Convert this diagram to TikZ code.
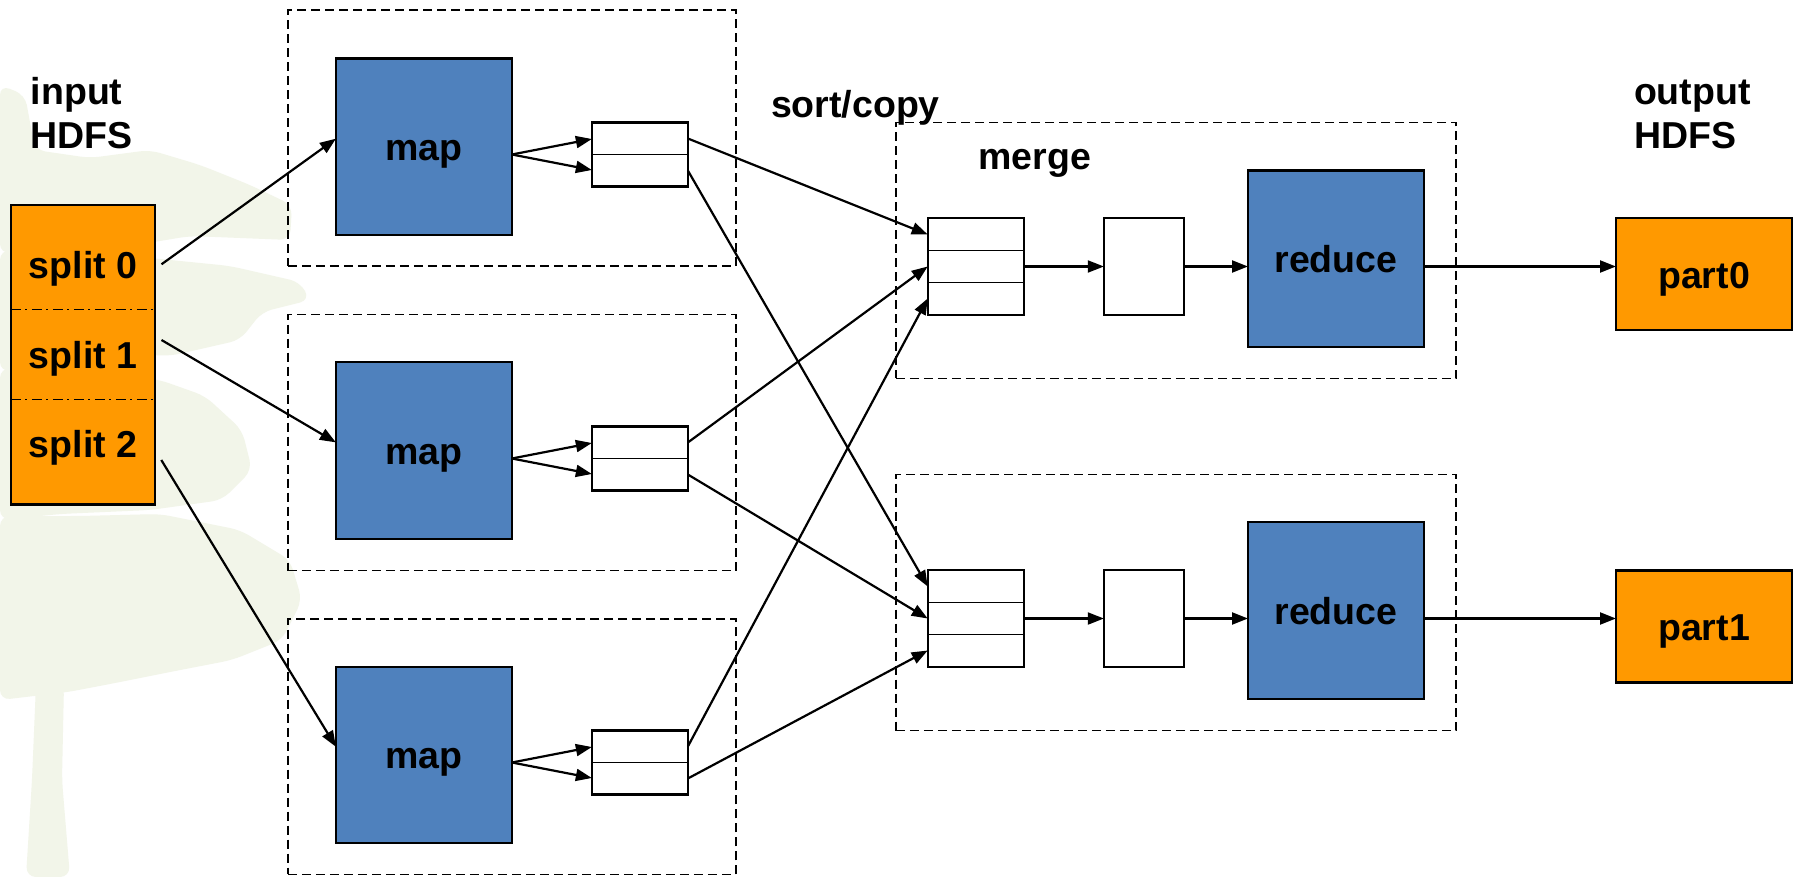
\documentclass[tikz,border=0pt]{standalone}
\usepackage{fontspec}
\setmainfont{Liberation Sans}
\usetikzlibrary{arrows.meta,calc}
\definecolor{mapblue}{RGB}{79,129,189}
\definecolor{splitorange}{RGB}{255,153,0}
\definecolor{treetint}{RGB}{242,245,233}

\begin{document}
\begin{tikzpicture}[x=0.5pt,y=-0.5pt,
  font=\fontsize{18.75}{21.65}\selectfont\bfseries,
  outlined/.style={draw=black,line width=1.1pt,inner sep=0pt,outer sep=0pt},
  taskbox/.style={outlined,fill=mapblue,text height=14pt,text depth=0pt,
                  minimum width=88pt,minimum height=88.2pt},
  partbox/.style={outlined,fill=splitorange,text height=14pt,text depth=0pt,
                  minimum width=88pt,minimum height=56pt},
  spillbox/.style={outlined,fill=white,minimum width=48pt,minimum height=32pt},
  mergebox/.style={outlined,fill=white,minimum width=48pt,minimum height=48.2pt},
  sortedbox/.style={outlined,fill=white,minimum width=40pt,minimum height=48.2pt},
  groupbox/.style={draw=black,line width=0.75pt,dash pattern=on 4.5pt off 2.5pt,
                   inner sep=0pt,outer sep=0pt},
  rowline/.style={draw=black,line width=0.9pt},
  splitline/.style={draw=black,line width=0.6pt,
                    dash pattern=on 5pt off 2.25pt on 1pt off 2.25pt},
  lbl/.style={inner sep=0pt,outer sep=0pt},
  arr/.style={draw=black,line width=1.1pt,-{Triangle[length=8pt,width=6pt]}}
]
\useasboundingbox (0,0) rectangle (1799,877);
\fill[white] (0,0) rectangle (1799,877);

% faint tree in the background: layered canopy and trunk
\begin{scope}[treetint, rounded corners=5pt]
\fill (0,85) -- (25,95) -- (35,150) -- (90,158) -- (150,150) -- (200,165)
  -- (250,185) -- (292,205) -- (290,240) -- (240,238) -- (190,236) -- (130,246)
  -- (60,244) -- (0,254) -- cycle;
\fill (0,250) -- (70,252) -- (150,258) -- (230,266) -- (300,282) -- (310,300)
  -- (262,312) -- (240,340) -- (170,356) -- (100,352) -- (40,366) -- (0,372) -- cycle;
\fill (0,368) -- (90,370) -- (160,380) -- (205,396) -- (242,430) -- (252,470)
  -- (222,500) -- (150,510) -- (60,514) -- (0,520) -- cycle;
\fill (0,516) -- (80,516) -- (160,514) -- (240,530) -- (290,560) -- (302,600)
  -- (282,640) -- (232,660) -- (170,672) -- (110,684) -- (68,692) -- (0,700) -- cycle;
\fill (26,877) -- (32,780) -- (36,684) -- (64,684) -- (62,780) -- (70,877) -- cycle;
\end{scope}

% dashed task groups
\node[groupbox,minimum width=224pt,minimum height=128pt] (grp1) at (511.75,138.25) {};
\node[groupbox,minimum width=224pt,minimum height=128pt] (grp2) at (511.75,442.7) {};
\node[groupbox,minimum width=224pt,minimum height=127.7pt] (grp3) at (511.75,746.65) {};
\node[groupbox,minimum width=280.1pt,minimum height=127.9pt] (rgrp1) at (1175.9,250.4) {};
\node[groupbox,minimum width=280.1pt,minimum height=128.2pt] (rgrp2) at (1175.9,602.5) {};

% input splits
\node[outlined,fill=splitorange,minimum width=72.25pt,minimum height=149.9pt] (splits) at (83,354.6) {};
\draw[splitline] (splits.west |- 0,309.7) -- (splits.east |- 0,309.7);
\draw[splitline] (splits.west |- 0,399.3) -- (splits.east |- 0,399.3);
\node[lbl,anchor=base] (split0) at (83,278.3) {split 0};
\node[lbl,anchor=base] (split1) at (83,368.3) {split 1};
\node[lbl,anchor=base] (split2) at (83,457.3) {split 2};

% map tasks
\node[taskbox] (map1) at (423.9,146.7) {map};
\node[taskbox] (map2) at (423.9,450.4) {map};
\node[taskbox] (map3) at (423.9,754.8) {map};

% map output buffers
\foreach \i/\y in {1/154.5,2/458.5,3/762.5}{
  \node[spillbox] (buf\i) at (639.85,\y) {};
  \draw[rowline] (buf\i.west) -- (buf\i.east);
}

% merge buffers, sorted runs, reducers
\foreach \i/\y/\ry in {1/266.5/258.65,2/618.5/610.5}{
  \node[mergebox] (mb\i) at (975.7,\y) {};
  \draw[rowline] ($(mb\i.west)+(0,-16)$) -- ($(mb\i.east)+(0,-16)$);
  \draw[rowline] ($(mb\i.west)+(0,16)$) -- ($(mb\i.east)+(0,16)$);
  \node[sortedbox] (sorted\i) at (1143.8,\y) {};
  \node[taskbox] (reduce\i) at (1336,\ry) {reduce};
}
\node[partbox] (part0) at (1704,274.3) {part0};
\node[partbox] (part1) at (1704,626.5) {part1};

% labels
\node[lbl,anchor=base west,align=left] (inlbl) at (30.8,148.3) {input\\HDFS};
\node[lbl,anchor=base west,align=left] (outlbl) at (1634,148.3) {output\\HDFS};
\node[lbl,anchor=base west] (sortlbl) at (771,118) {sort/copy};
\node[lbl,anchor=base west] (mergelbl) at (978.5,169.3) {merge};

% splits to maps
\coordinate (s0) at (161.5,264.3);
\coordinate (s1) at (161.5,340);
\coordinate (s2) at (161.3,460);
\draw[arr] (s0) -- ([yshift=4pt]map1.west);
\draw[arr] (s1) -- ([yshift=4pt]map2.west);
\draw[arr] (s2) -- ([yshift=4pt]map3.west);

% maps to their output buffers
\foreach \i in {1,2,3}{
  \draw[arr] (map\i.east |- buf\i.center) -- ([yshift=7.75pt]buf\i.west);
  \draw[arr] (map\i.east |- buf\i.center) -- ([yshift=-7.75pt]buf\i.west);
}

% shuffle
\draw[arr] ([yshift=8pt]buf1.east) -- ([yshift=16pt]mb1.west);
\draw[arr] ([yshift=-8pt]buf1.east) -- ([yshift=16pt]mb2.west);
\draw[arr] ([yshift=8pt]buf2.east) -- (mb1.west);
\draw[arr] ([yshift=-8pt]buf2.east) -- (mb2.west);
\draw[arr] ([yshift=8pt]buf3.east) -- ([yshift=-16pt]mb1.west);
\draw[arr] ([yshift=-8pt]buf3.east) -- ([yshift=-16pt]mb2.west);

% merge, reduce, write
\foreach \i/\p in {1/part0,2/part1}{
  \draw[arr] (mb\i.east) -- (sorted\i.west);
  \draw[arr] (sorted\i.east) -- (sorted\i.east -| reduce\i.west);
  \draw[arr] (reduce\i.east |- sorted\i.center) -- (\p.west |- sorted\i.center);
}
\end{tikzpicture}
\end{document}
